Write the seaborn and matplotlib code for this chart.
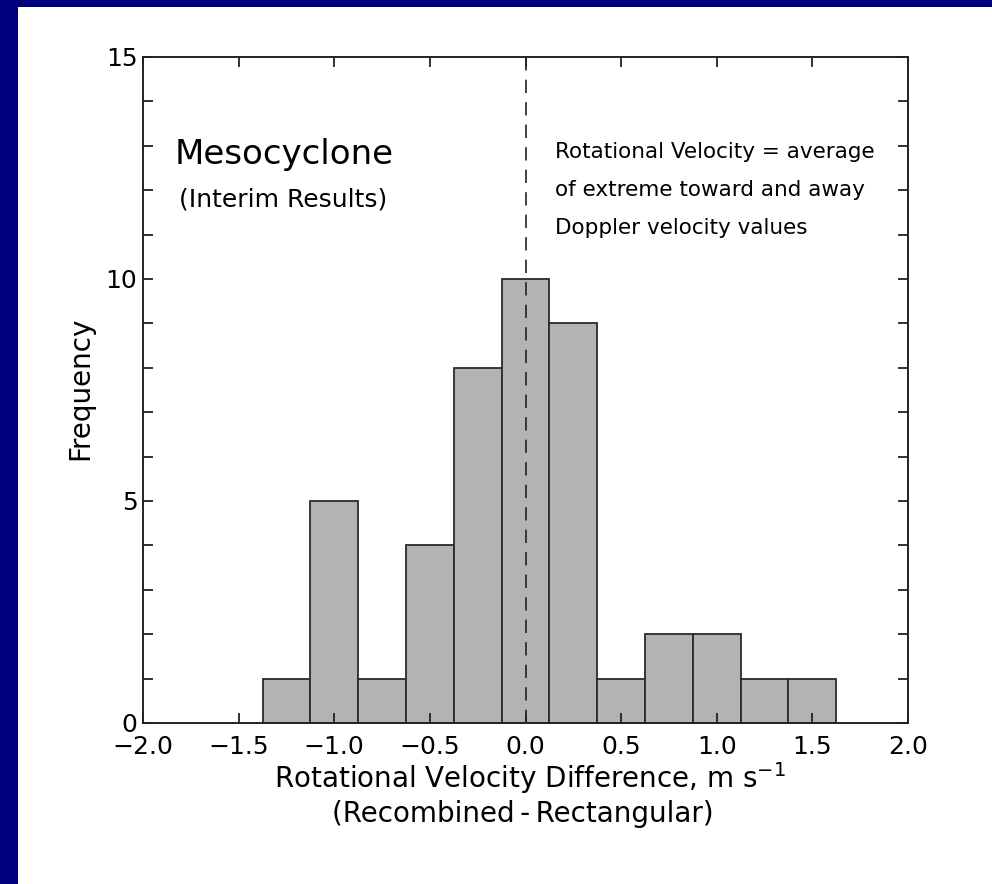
import matplotlib
matplotlib.use("Agg")
import matplotlib.pyplot as plt
from matplotlib.patches import Rectangle
from matplotlib.ticker import MultipleLocator
import seaborn as sns
import pandas as pd

# Data
bin_centers = [-1.25, -1.0, -0.75, -0.5, -0.25, 0.0, 0.25, 0.5, 0.75, 1.0, 1.25, 1.5]
frequencies = [1, 5, 1, 4, 8, 10, 9, 1, 2, 2, 1, 1]
x_ticks = [-2.0, -1.5, -1.0, -0.5, 0.0, 0.5, 1.0, 1.5, 2.0]
x_tick_labels = ["\u22122.0", "\u22121.5", "\u22121.0", "\u22120.5", "0.0", "0.5", "1.0", "1.5", "2.0"]
y_ticks = [0, 5, 10, 15]
y_tick_labels = ["0", "5", "10", "15"]

sns.set_style("ticks")
plt.rcParams['font.family'] = ['DejaVu Sans']
plt.rcParams['text.color'] = 'black'
plt.rcParams['axes.labelcolor'] = 'black'
plt.rcParams['xtick.color'] = 'black'
plt.rcParams['ytick.color'] = 'black'

df = pd.DataFrame({"diff": bin_centers, "freq": frequencies})

W, H = 992, 884
fig = plt.figure(figsize=(W / 100, H / 100), dpi=100)
fig.patch.set_facecolor("white")
navy = "#00007f"
fig.patches.append(Rectangle((0, 0), 18 / W, 1, transform=fig.transFigure,
                             facecolor=navy, edgecolor="none", zorder=-10))
fig.patches.append(Rectangle((0, 1 - 7 / H), 1, 7 / H, transform=fig.transFigure,
                             facecolor=navy, edgecolor="none", zorder=-10))

ax = fig.add_axes([143 / W, 1 - 723 / H, (908 - 143) / W, (723 - 57) / H])

sns.histplot(data=df, x="diff", weights="freq", binwidth=0.25, binrange=(-1.375, 1.625),
             color="#b3b3b3", edgecolor="#2a2a2a", linewidth=1.3, alpha=1.0, ax=ax)

ax.axvline(0.0, color="#222222", lw=1.2, linestyle=(0, (8, 5.5)), zorder=3)

ax.set_xlim(-2.0, 2.0)
ax.set_ylim(0, 15)
ax.set_xticks(x_ticks)
ax.set_xticklabels(x_tick_labels)
ax.set_yticks(y_ticks)
ax.set_yticklabels(y_tick_labels)
ax.yaxis.set_minor_locator(MultipleLocator(1))
ax.set_xlabel("")
ax.set_ylabel("")

for s in ax.spines.values():
    s.set_linewidth(1.4)
    s.set_color("#222222")
    s.set_zorder(5)

ax.tick_params(axis="both", which="both", direction="in", length=7.5, width=1.3,
               color="#222222", top=True, right=True, labelsize=18)
ax.tick_params(axis="y", which="major", pad=4)
ax.tick_params(axis="x", which="major", pad=9)
ax.set_axisbelow(False)

# axis titles
fig.text(530 / W, 1 - 778 / H, "Rotational Velocity Difference, m s$^{-1}$",
         fontsize=20, ha="center", va="center")
fig.text(523 / W, 1 - 814 / H, "(Recombined\u2009-\u2009Rectangular)",
         fontsize=20, ha="center", va="center")
fig.text(80 / W, 1 - 388 / H, "Frequency", fontsize=20, rotation=90,
         ha="center", va="center")

ax.text(-1.835, 12.8, "Mesocyclone", fontsize=24.5, va="center", ha="left")
ax.text(-1.81, 11.78, "(Interim Results)", fontsize=18, va="center", ha="left")
ax.text(0.155, 12.86, "Rotational Velocity = average", fontsize=15.5, va="center", ha="left")
ax.text(0.155, 12.0, "of extreme toward and away", fontsize=15.5, va="center", ha="left")
ax.text(0.155, 11.15, "Doppler velocity values", fontsize=15.5, va="center", ha="left")

fig.savefig("out.png", dpi=100, facecolor=fig.get_facecolor())
